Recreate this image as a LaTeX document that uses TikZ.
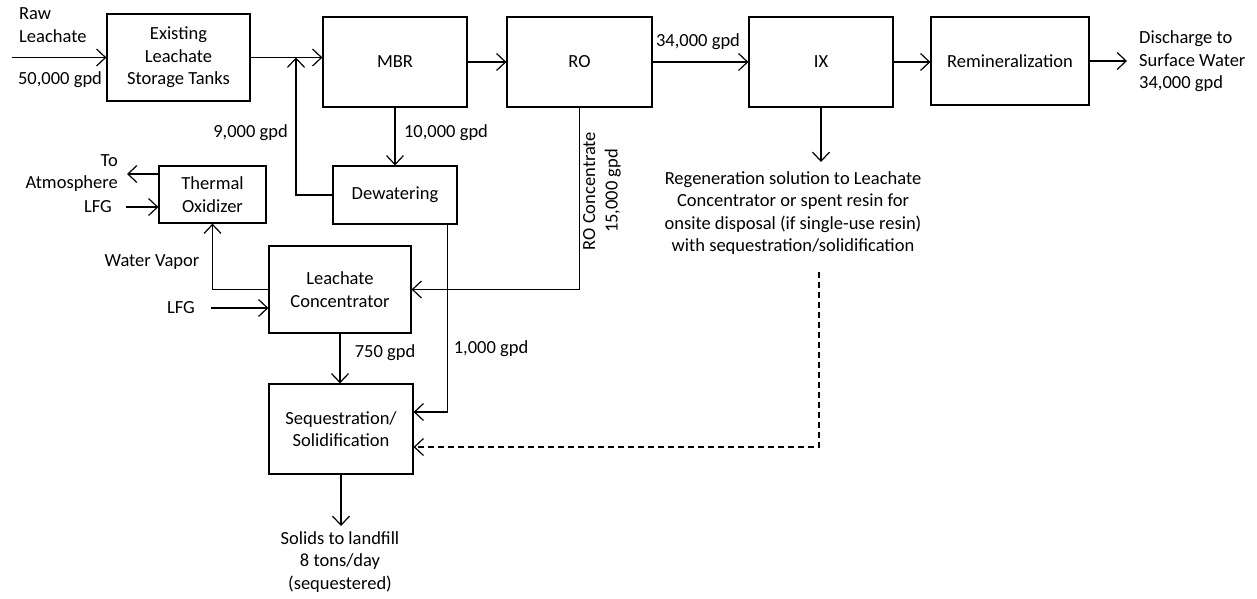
\documentclass[tikz,border=0pt]{standalone}
\usepackage{fontspec}
\setmainfont{Carlito}
\usetikzlibrary{arrows.meta}

\begin{document}
\begin{tikzpicture}[x=1pt,y=-1pt,
   font=\fontsize{18.5}{22.5}\selectfont,
   every node/.style={align=center,inner sep=0pt},
   unit/.style={draw,line width=1.2pt},
   flow/.style={line width=1.2pt,-{Straight Barb[length=9pt,width=17pt]}}]
\useasboundingbox (0,0) rectangle (1257,598);

\node[unit,minimum width=143pt,minimum height=87pt] (tanks) at (178.5,57.5) {Existing\\Leachate\\Storage Tanks};
\node[unit,minimum width=144pt,minimum height=90pt] (mbr) at (395,62) {MBR};
\node[unit,minimum width=145pt,minimum height=90pt] (ro) at (579.5,62) {RO};
\node[unit,minimum width=144pt,minimum height=90pt] (ix) at (821,62) {IX};
\node[unit,minimum width=158pt,minimum height=88pt] (remin) at (1010,61) {Remineralization};
\node[unit,minimum width=107pt,minimum height=57pt] (thermal) at (212.5,194.5) {Thermal\\Oxidizer};
\node[unit,minimum width=124pt,minimum height=58pt] (dewat) at (395,195) {Dewatering};
\node[unit,minimum width=142pt,minimum height=87pt] (conc) at (340,289.5) {Leachate\\Concentrator};
\node[unit,minimum width=144pt,minimum height=90pt] (seq) at (341,429) {Sequestration/\\Solidification};

\node[anchor=west,align=left] (raw) at (19,25) {Raw\\Leachate};
\node (rawq) at (60,80) {50,000 gpd};
\node (roq) at (698,42) {34,000 gpd};
\node[anchor=west,align=left] (out) at (1139,61.5) {Discharge to\\Surface Water\\34,000 gpd};
\node (mbrq) at (446,133) {10,000 gpd};
\node[anchor=east] (recq) at (288,133) {9,000 gpd};
\node[anchor=east,align=right] (atm) at (118,173) {To\\Atmosphere};
\node (lfga) at (98,207) {LFG};
\node (lfgb) at (181,308) {LFG};
\node (vapor) at (152,262) {Water Vapor};
\node (concq) at (385,353) {750 gpd};
\node (dewq) at (491,349) {1,000 gpd};
\node[rotate=90] (roc) at (602,191) {RO Concentrate\\15,000 gpd};
\node (regen) at (793,213) {Regeneration solution to Leachate\\Concentrator or spent resin for\\onsite disposal (if single-use resin)\\with sequestration/solidification};
\node (solids) at (340,562) {Solids to landfill\\8 tons/day\\(sequestered)};

\coordinate (rawtail) at (12,57.5);
\coordinate (join) at (296,57.5);
\coordinate (outtip) at (1127,61);
\coordinate (atmtip) at (127,174);
\coordinate (regtip) at (821,162);
\coordinate (regtail) at (819,272);
\coordinate (solidtip) at (341,526);

\draw[flow] (rawtail) -- (tanks.west);
\draw[flow] (tanks.east) -- (tanks.east -| mbr.west);
\draw[flow] (mbr.east) -- (ro.west);
\draw[flow] (ro.east) -- (ix.west);
\draw[flow] (ix.east) -- (ix.east -| remin.west);
\draw[flow] (remin.east) -- (outtip);
\draw[flow] (mbr.south) -- (dewat.north);
\draw[flow] (dewat.west) -| (join);
\draw[flow] (ro.south) |- (conc.east);
\draw[flow] ([xshift=-10pt]dewat.south east) |- ([yshift=17pt]seq.east);
\draw[flow] (conc.south) -- (conc.south |- seq.north);
\draw[flow] (conc.west) -| (thermal.south);
\draw[flow] ([xshift=16pt]lfgb.east) -- (lfgb.east -| conc.west);
\draw[flow] ([xshift=14pt]lfga.east) -- (lfga.east -| thermal.west);
\draw[flow] ([yshift=20.5pt]thermal.west) -- (atmtip);
\draw[flow] (ix.south) -- (regtip);
\draw[flow,dash pattern=on 6pt off 4pt] (regtail) |- ([yshift=-18pt]seq.east);
\draw[flow] (seq.south) -- (solidtip);
\end{tikzpicture}
\end{document}
